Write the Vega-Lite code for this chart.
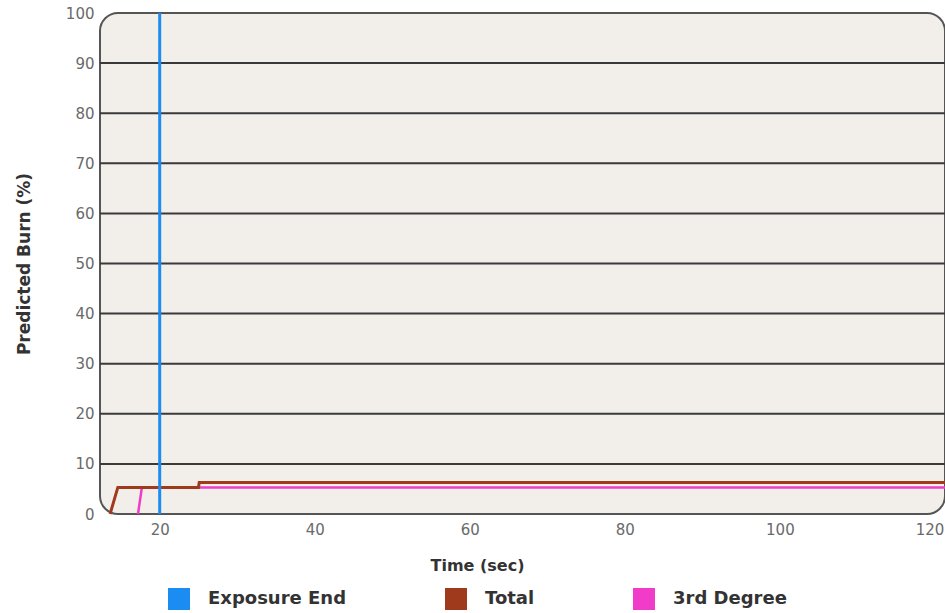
{
  "$schema": "https://vega.github.io/schema/vega-lite/v6.json",
  "width": 845,
  "height": 501,
  "autosize": {"type": "none"},
  "padding": {"left": 100, "top": 13, "right": 0, "bottom": 99},
  "background": "white",
  "config": {
    "font": "DejaVu Sans",
    "view": {"fill": "#f2efeb", "stroke": "#555555", "strokeWidth": 2, "cornerRadius": 18}
  },
  "datasets": {
    "grid": [{"v": 10}, {"v": 20}, {"v": 30}, {"v": 40}, {"v": 50}, {"v": 60}, {"v": 70}, {"v": 80}, {"v": 90}],
    "third": [
      {"series": "3rd Degree", "time": 17.2, "burn": 0},
      {"series": "3rd Degree", "time": 17.7, "burn": 5.3},
      {"series": "3rd Degree", "time": 121.3, "burn": 5.3}
    ],
    "total": [
      {"series": "Total", "time": 13.6, "burn": 0},
      {"series": "Total", "time": 14.6, "burn": 5.3},
      {"series": "Total", "time": 25.0, "burn": 5.3},
      {"series": "Total", "time": 25.1, "burn": 6.3},
      {"series": "Total", "time": 121.3, "burn": 6.3}
    ],
    "exposure": [{"series": "Exposure End", "time": 20}]
  },
  "layer": [
    {
      "data": {"name": "grid"},
      "mark": {"type": "rule", "color": "#3a3a3a", "strokeWidth": 2},
      "encoding": {
        "y": {
          "field": "v",
          "type": "quantitative",
          "scale": {"domain": [0, 100], "nice": false},
          "axis": {
            "values": [0, 10, 20, 30, 40, 50, 60, 70, 80, 90, 100],
            "domain": false,
            "ticks": false,
            "grid": false,
            "labelPadding": 6,
            "labelFontSize": 15,
            "labelColor": "#6a6a6a",
            "title": "Predicted Burn (%)",
            "titleFontSize": 17,
            "titleFontWeight": "bold",
            "titleColor": "#333333",
            "titlePadding": 32
          }
        }
      }
    },
    {
      "data": {"name": "third"},
      "mark": {"type": "line", "strokeWidth": 2.5},
      "encoding": {
        "x": {
          "field": "time",
          "type": "quantitative",
          "scale": {"domain": [12.3, 121.3], "nice": false, "zero": false},
          "axis": {
            "values": [20, 40, 60, 80, 100, 120],
            "domain": false,
            "ticks": false,
            "grid": false,
            "labelPadding": 8,
            "labelFontSize": 15,
            "labelColor": "#6a6a6a",
            "labelAlign": {"expr": "datum.value == 120 ? 'right' : 'center'"},
            "labelOffset": {"expr": "datum.value == 120 ? 9 : 0"},
            "title": "Time (sec)",
            "titleFontSize": 16,
            "titleFontWeight": "bold",
            "titleColor": "#333333",
            "titlePadding": 20,
            "titleX": 377
          }
        },
        "y": {"field": "burn", "type": "quantitative"},
        "color": {
          "field": "series",
          "type": "nominal",
          "scale": {"domain": ["Exposure End", "Total", "3rd Degree"], "range": ["#1b8cf2", "#a03a1c", "#f03cc8"]},
          "legend": {
            "title": null,
            "orient": "none",
            "legendX": 68,
            "legendY": 575,
            "direction": "horizontal",
            "symbolType": "square",
            "symbolSize": 484,
            "symbolStrokeWidth": 0,
            "labelFont": "DejaVu Sans",
            "labelFontSize": 18,
            "labelFontWeight": "bold",
            "labelColor": "#333333",
            "labelOffset": 18,
            "columnPadding": 98,
            "encode": {
              "symbols": {"update": {"fill": {"scale": "color", "field": "value"}, "fillOpacity": {"value": 1}, "strokeWidth": {"value": 0}}}
            }
          }
        }
      }
    },
    {
      "data": {"name": "total"},
      "mark": {"type": "line", "strokeWidth": 3},
      "encoding": {
        "x": {"field": "time", "type": "quantitative"},
        "y": {"field": "burn", "type": "quantitative"},
        "color": {"field": "series", "type": "nominal"}
      }
    },
    {
      "data": {"name": "exposure"},
      "mark": {"type": "rule", "strokeWidth": 3},
      "encoding": {
        "x": {"field": "time", "type": "quantitative"},
        "color": {"field": "series", "type": "nominal"}
      }
    }
  ]
}
